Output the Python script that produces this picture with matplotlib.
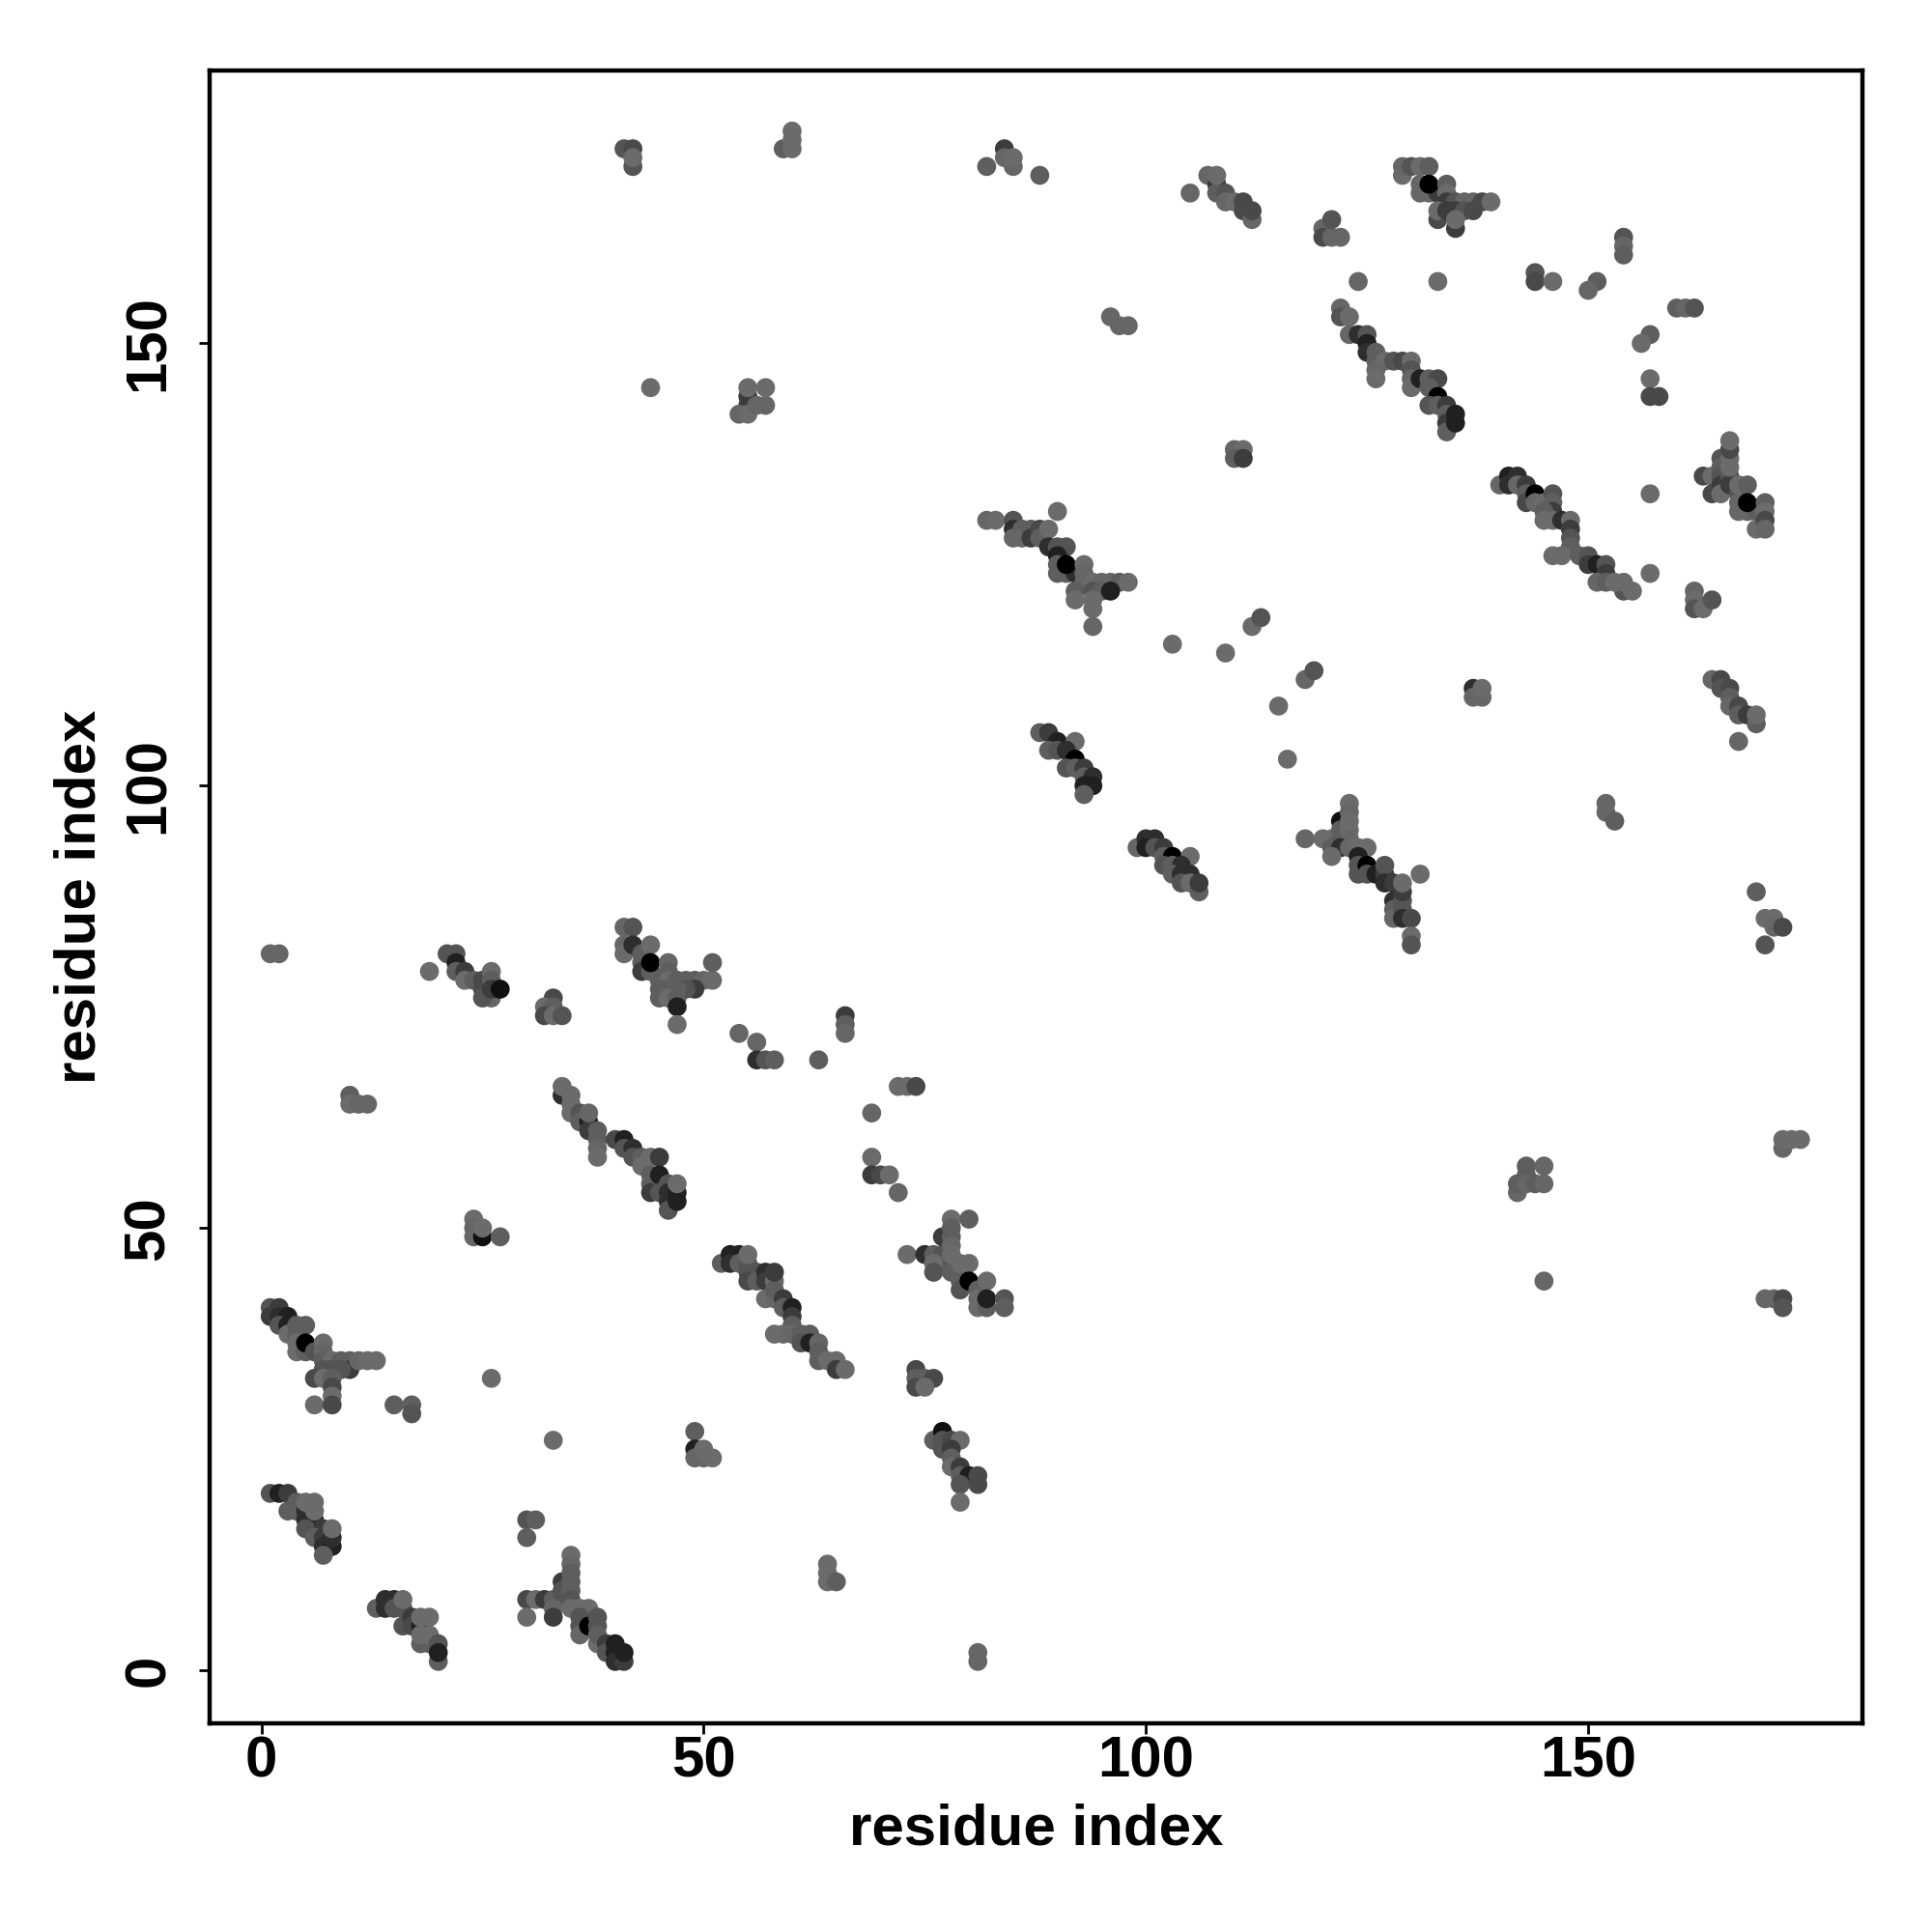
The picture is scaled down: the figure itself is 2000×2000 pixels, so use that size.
import matplotlib
matplotlib.use("Agg")
import matplotlib.pyplot as plt

plt.rcParams["font.family"] = ["Liberation Sans", "DejaVu Sans"]

# contacts per cluster as (residue_x, residue_y, weight), weight 0 (light) .. 9 (black)
block_a = [(1,20,3),(2,20,7),(3,20,5),(4,19,2),(3,18,2),(4,18,2),(5,18,6),(5,17,6),(6,17,6),(5,16,3),(7,16,5),(6,15,2),(7,15,5),(7,14,6),(8,14,7),(8,15,6),(7,13,2),(5,19,0),(6,19,0),(6,18,0),(8,16,0)]
block_b = [(13,7,2),(14,8,6),(15,8,6),(14,7,6),(15,7,3),(16,7,3),(16,5,3),(17,6,5),(17,5,4),(18,5,7),(18,3,2),(19,3,2),(16,8,0),(18,6,0),(19,6,0),(18,4,0),(19,4,0),(20,1,2),(20,3,3),(20,2,7)]
block_c = [(30,8,4),(31,8,0),(32,8,5),(33,8,2),(34,8,3),(30,6,0),(33,7,1),(33,6,5),(34,10,5),(34,9,3),(35,13,0),(35,12,1),(35,11,2),(35,10,2),(35,9,2),(35,8,3),(35,7,0),(36,7,0),(37,7,0),(36,6,3),(36,5,3),(36,4,1),(38,3,0),(37,5,9),(38,6,3),(38,5,3),(38,4,2),(39,3,5),(39,2,3),(40,3,7),(40,2,7),(40,1,6),(41,1,5),(41,2,7)]
block_d = [(1,41,3),(2,41,5),(1,40,5),(2,40,6),(3,40,7),(2,39,3),(3,39,7),(3,38,0),(4,38,2),(4,39,2),(5,39,2),(4,37,0),(4,36,0),(5,36,2),(5,37,9),(6,36,3),(7,37,0),(7,36,1),(7,35,2),(8,35,0),(9,35,2),(10,35,2),(10,34,5),(9,34,3),(8,34,3),(7,34,3),(11,35,1),(12,35,0),(13,35,0),(6,33,4),(7,33,0),(8,33,2),(8,32,4),(8,31,0),(6,30,0),(8,30,4)]
block_e = [(15,30,2),(17,30,2),(17,29,3),(26,33,0),(33,26,0),(49,27,2),(49,25,7),(49,24,1),(50,24,1),(50,25,0),(51,24,0),(30,17,3),(31,17,2),(30,15,2),(64,12,0),(64,11,0),(64,10,0),(65,10,2),(81,2,1),(81,1,1)]
block_f = [(52,46,2),(53,47,7),(54,47,7),(53,46,6),(54,46,2),(55,46,3),(55,45,3),(56,45,3),(55,44,4),(56,44,2),(57,45,6),(57,44,5),(57,42,0),(58,42,1),(58,44,0),(58,43,2),(59,42,5),(59,41,2),(60,41,7),(60,40,5),(60,39,2),(58,45,5),(55,47,0),(58,38,0),(59,38,0),(60,38,1),(61,38,2),(62,38,2),(61,37,3),(62,37,7),(63,37,1),(63,36,2),(63,35,2),(64,35,0),(65,35,0),(65,34,5),(66,34,0)]
block_g = [(73,47,0),(75,47,6),(76,47,2),(77,47,3),(77,49,5),(78,51,0),(78,50,2),(78,49,2),(78,48,1),(77,46,3),(76,46,0),(76,45,3),(78,47,0),(79,45,5),(78,45,2),(79,44,2),(79,43,3),(79,46,0),(80,46,0),(80,44,9),(81,43,2),(81,42,0),(81,41,0),(82,41,2),(82,44,0),(82,42,7),(84,42,3),(84,41,2),(80,51,2)]
block_h = [(74,34,4),(74,33,2),(75,33,2),(76,33,4),(74,32,4),(75,32,0),(76,26,2),(77,27,8),(77,26,3),(77,25,3),(78,26,4),(79,26,0),(78,25,5),(78,24,2),(78,23,0),(79,23,5),(79,22,2),(80,22,7),(79,21,3),(81,22,4),(81,21,4),(79,19,0)]
block_i = [(1,81,1),(2,81,1),(19,79,0),(21,81,3),(22,81,3),(22,80,7),(22,79,2),(23,79,5),(23,78,0),(24,78,2),(25,78,4),(25,77,4),(26,79,0),(26,78,2),(26,76,1),(25,76,3),(26,77,5),(27,77,8),(33,76,4),(32,75,0),(33,75,2),(32,74,4),(33,74,0),(34,74,3),(10,65,2),(10,64,0),(11,64,1),(12,64,1)]
block_j = [(41,84,1),(42,84,3),(41,82,1),(41,81,0),(42,82,6),(43,81,2),(43,80,2),(43,79,5),(44,82,0),(44,79,2),(44,80,9),(45,78,2),(46,80,1),(46,79,2),(46,78,0),(47,78,2),(48,78,2),(49,78,2),(50,78,1),(51,78,0),(51,80,2),(49,77,5),(48,77,3),(47,77,2),(46,77,2),(45,77,2),(45,76,2),(46,76,0),(47,76,2),(47,75,7),(47,73,0)]
block_k = [(34,65,6),(34,66,0),(35,65,0),(35,64,0),(35,63,0),(36,63,3),(36,62,2),(37,62,7),(37,61,5),(37,63,1),(38,61,2),(38,60,2),(38,59,1),(38,58,0),(40,60,4),(41,60,7),(41,59,3),(42,59,6),(42,58,3),(43,58,2),(44,58,0),(45,58,5),(43,57,0),(44,56,2),(44,55,2),(44,54,5),(45,56,7),(45,54,3),(46,55,3),(46,54,6),(46,53,6),(46,52,3),(47,54,7),(47,53,7),(47,55,0)]
block_l = [(24,51,0),(24,50,1),(24,49,1),(25,49,8),(25,50,0),(27,49,2),(54,72,1),(56,71,1),(56,69,6),(57,69,3),(58,69,2),(63,69,2),(66,74,5),(66,73,2),(66,72,1),(69,63,1),(69,58,0),(69,56,5),(70,56,4),(71,56,0),(72,54,1),(72,66,0),(73,66,0),(74,66,4)]
block_m = [(88,106,2),(89,106,5),(90,105,7),(92,105,0),(89,104,2),(90,104,3),(91,104,6),(92,103,9),(91,102,3),(92,102,2),(93,102,5),(93,101,2),(94,101,6),(94,100,7),(93,100,7),(93,99,2)]
block_n = [(99,93,1),(100,94,6),(101,94,6),(100,93,7),(101,93,3),(102,93,5),(102,92,2),(103,92,9),(105,92,0),(102,91,3),(103,91,2),(104,91,6),(103,90,2),(104,90,6),(105,90,6),(104,89,3),(105,89,0),(106,88,2),(106,89,5)]
block_o = [(115,109,0),(116,103,0),(118,94,1),(120,94,0),(121,94,0),(122,96,8),(122,95,2),(122,94,2),(123,98,0),(123,97,1),(123,96,0),(123,95,0),(123,94,1),(121,93,2),(122,93,6),(121,92,0),(123,93,1),(124,93,0),(125,93,0),(124,92,7),(124,91,3),(124,90,3),(125,91,9),(125,90,3),(126,90,7),(127,90,5),(127,91,3),(127,89,6),(128,89,5),(128,87,6),(128,86,2),(128,85,1),(129,87,3),(129,86,3),(129,88,5),(129,85,6),(130,85,4),(129,89,0),(131,90,0),(130,83,0),(130,82,3)]
block_p = [(82,130,1),(83,130,0),(85,130,3),(85,129,6),(85,128,1),(86,129,2),(86,128,1),(87,129,2),(87,128,5),(88,129,4),(88,128,2),(89,129,0),(90,131,0),(89,127,6),(90,127,3),(91,127,3),(90,126,7),(90,125,2),(90,124,2),(91,124,2),(92,124,6),(91,125,9),(93,125,0),(93,124,1),(93,123,1),(92,122,2),(94,123,0),(95,123,1),(96,123,1),(97,123,2),(98,123,0),(94,122,3),(95,122,2),(96,122,7),(92,121,0),(94,121,0),(94,120,0),(94,118,1)]
block_q = [(103,116,0),(109,115,0),(112,118,0),(113,119,3),(118,112,1),(119,113,3),(110,138,1),(111,138,0),(110,137,2),(111,137,5),(137,111,6),(137,110,1),(138,110,1),(138,111,0),(152,98,1),(152,97,1),(153,96,2),(157,133,0),(157,124,0),(133,157,0),(124,157,1),(96,153,1),(97,152,1),(98,152,1)]
block_r = [(122,154,1),(122,153,3),(123,153,0),(123,151,1),(124,151,6),(125,151,3),(125,150,7),(125,149,6),(126,149,2),(126,148,2),(127,148,0),(128,148,3),(129,148,4),(130,148,0),(126,147,1),(126,146,0),(130,147,3),(130,146,1),(130,145,0),(131,146,7),(132,146,2),(133,146,4),(132,145,2),(133,144,9),(132,143,3),(133,143,2),(134,143,5),(134,142,2),(134,141,5),(134,140,2),(135,142,7),(135,141,7)]
block_s = [(140,134,1),(141,135,7),(141,134,6),(142,135,6),(142,134,1),(143,134,5),(143,133,2),(143,132,4),(144,133,9),(144,132,1),(145,132,0),(146,133,3),(146,132,2),(146,131,5),(145,131,2),(145,130,0),(146,130,0),(147,130,6),(148,130,0),(148,129,5),(148,128,3),(148,127,2),(146,126,0),(147,126,0),(149,126,2),(150,126,3),(150,125,5),(151,125,7),(152,125,3),(152,124,5),(151,123,1),(152,123,2),(154,122,3),(155,122,0),(153,123,0),(154,123,0)]
block_t = [(163,135,4),(164,135,0),(164,133,4),(165,137,3),(165,136,2),(165,135,3),(165,134,5),(165,133,0),(166,135,3),(166,134,5),(166,136,0),(166,137,0),(166,138,4),(166,139,0),(167,133,3),(167,132,1),(167,131,1),(168,131,1),(169,131,2),(167,134,0),(168,134,2),(168,132,9),(169,129,0),(170,132,2),(170,131,0),(170,130,4),(170,129,1),(162,122,1),(162,121,0),(162,120,3),(163,120,0),(164,121,3)]
block_u = [(164,112,1),(165,112,4),(165,111,3),(166,111,4),(166,110,2),(166,109,1),(167,109,4),(167,108,2),(168,108,5),(169,107,2),(169,108,0),(167,105,1)]
block_v = [(105,167,1),(107,169,1),(108,168,5),(108,167,2),(108,169,0),(109,167,3),(109,166,1),(110,166,0),(111,166,4),(111,165,4),(112,164,1),(112,165,4),(120,163,1),(120,162,4),(121,162,1),(122,162,1),(121,164,3)]
block_w = [(129,169,0),(129,170,1),(130,170,3),(131,170,0),(132,170,2),(131,168,1),(131,167,1),(132,167,1),(133,167,5),(132,168,9),(134,168,2),(134,167,0),(134,166,5),(135,166,3),(136,166,1),(137,166,1),(138,166,4),(139,166,0),(133,164,4),(133,165,0),(134,165,5),(135,165,5),(136,165,3),(137,165,4),(135,163,5),(135,164,0)]
block_x = [(144,158,3),(144,157,4),(146,157,0),(151,157,2),(150,156,1),(154,162,3),(154,161,1),(154,160,2),(160,154,2),(161,154,1),(162,154,3),(157,151,2),(156,150,0),(157,146,0),(157,144,4),(158,144,4)]
block_y = [(41,172,3),(42,172,4),(42,170,3),(42,171,0),(59,172,2),(60,174,0),(60,173,0),(60,172,0),(84,172,5),(84,171,1),(85,170,1),(85,171,0),(82,170,2),(88,169,2),(44,145,0),(55,144,5),(55,143,5),(54,142,1),(55,142,0),(56,143,1),(57,143,1),(55,145,0),(57,145,0)]
block_z = [(142,54,1),(142,55,2),(143,57,2),(143,56,2),(143,55,1),(144,55,2),(145,57,1),(145,55,1),(145,44,1),(170,42,1),(171,42,1),(172,42,4),(172,41,3),(172,59,1),(172,60,0),(173,60,0),(174,60,0),(169,88,2),(170,85,0),(171,85,0),(171,84,1),(172,84,4),(170,82,3)]

blocks = [block_a, block_b, block_c, block_d, block_e, block_f, block_g, block_h, block_i, block_j, block_k, block_l, block_m,
          block_n, block_o, block_p, block_q, block_r, block_s, block_t, block_u, block_v, block_w, block_x, block_y, block_z]

axis_ticks = [0, 50, 100, 150]
axis_label = "residue index"

fig = plt.figure(figsize=(10, 10), dpi=200)
ax = fig.add_axes([217 / 2000, 1 - 1784 / 2000, 1710.5 / 2000, 1711 / 2000])

for block in blocks:
    xs = [p[0] for p in block]
    ys = [p[1] for p in block]
    # darker only towards the top weights, most marks stay mid grey
    greys = [str(0.42 * (1 - (p[2] / 9) ** 1.4)) for p in block]
    ax.scatter(xs, ys, c=greys, s=50, linewidths=0)

ax.set_xlim(-5.85, 180.95)
ax.set_ylim(-6.0, 180.85)
ax.set_xticks(axis_ticks)
ax.set_yticks(axis_ticks)
ax.tick_params(length=4, width=1, labelsize=21.6)
ax.tick_params(axis="x", pad=0.4)
ax.tick_params(axis="y", pad=8.6)
for lab in ax.get_xticklabels():
    lab.set_fontweight("bold")
for lab in ax.get_yticklabels():
    lab.set_fontweight("bold")
    lab.set_rotation(90)
    lab.set_va("center")
for side in ax.spines.values():
    side.set_linewidth(1.6)

ax.set_xlabel(axis_label, fontsize=21.6, fontweight="bold")
ax.set_ylabel(axis_label, fontsize=21.6, fontweight="bold")
ax.xaxis.set_label_coords(0.5, -0.0483)
ax.yaxis.set_label_coords(-0.0621, 0.5)

fig.savefig("out.png")
plt.close(fig)
